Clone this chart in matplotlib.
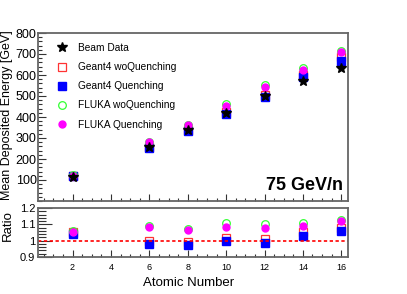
import matplotlib
matplotlib.use("Agg")
import matplotlib.pyplot as plt
import numpy as np
from matplotlib.ticker import MultipleLocator

plt.rcParams['font.family'] = ['Liberation Sans', 'DejaVu Sans']

Z = [2, 6, 8, 10, 12, 14, 16]
beam = [115, 258, 339, 418, 501, 573, 633]
g4_woq = [121, 257, 337, 426, 506, 602, 684]
g4_q = [120, 253, 331, 416, 494, 590, 669]
fluka_woq = [122, 281, 364, 463, 551, 634, 715]
fluka_q = [121, 280, 362, 454, 541, 624, 709]

labels = ["Beam Data", "Geant4 woQuenching", "Geant4 Quenching",
          "FLUKA woQuenching", "FLUKA Quenching"]

W, H = 407, 294
fig = plt.figure(figsize=(W / 100, H / 100), dpi=100)

def rect(l, t, r, b):
    return [l / W, 1 - b / H, (r - l) / W, (b - t) / H]

ax = fig.add_axes(rect(38, 33, 348, 201))
axr = fig.add_axes(rect(38, 208, 348, 257))

ms = 5
styles = [
    dict(marker='s', mfc='none', mec='#ff3333', ms=ms + 0.5, mew=0.9, ls='none'),
    dict(marker='s', mfc='#0000ff', mec='#0000ff', ms=ms + 0.5, ls='none'),
    dict(marker='o', mfc='none', mec='#33ff33', ms=ms + 0.5, mew=0.9, ls='none'),
    dict(marker='o', mfc='#ff00ff', mec='#ff00ff', ms=ms, ls='none'),
]
series = [g4_woq, g4_q, fluka_woq, fluka_q]
handles = []
for s, st in zip(series, styles):
    h, = ax.plot(Z, s, **st)
    handles.append(h)
    axr.plot(Z, np.array(s) / np.array(beam), **st)
hb, = ax.plot(Z, beam, marker='*', color='black', ms=7, ls='none')
handles = [hb] + handles

ax.set_xlim(0.2, 16.35)
axr.set_xlim(0.2, 16.35)
ax.set_ylim(0, 800)
axr.set_ylim(0.9, 1.2)
axr.axhline(1.0, color='#ff0000', ls=(0, (2, 1.5)), lw=1.2)

for a in (ax, axr):
    a.xaxis.set_major_locator(MultipleLocator(2))
    a.xaxis.set_minor_locator(MultipleLocator(0.5))
    for sp in a.spines.values():
        sp.set_color('#666666')
        sp.set_linewidth(1.3)
    a.tick_params(which='both', direction='in', top=False, right=False,
                  colors='#333333', width=0.8)
ax.yaxis.set_major_locator(MultipleLocator(100))
ax.yaxis.set_minor_locator(MultipleLocator(20))
ax.set_yticks([100, 200, 300, 400, 500, 600, 700, 800])
ax.tick_params(axis='y', which='major', length=6, labelsize=9, pad=1)
ax.tick_params(axis='y', which='minor', length=3)
ax.tick_params(axis='x', which='major', length=5, labelbottom=False)
ax.tick_params(axis='x', which='minor', length=2.5)

axr.yaxis.set_major_locator(MultipleLocator(0.1))
axr.yaxis.set_minor_locator(MultipleLocator(0.02))
axr.set_yticks([0.9, 1.0, 1.1, 1.2])
axr.set_yticklabels(['0.9', '1', '1.1', '1.2'])
axr.tick_params(axis='y', which='major', length=10, labelsize=8, pad=2)
axr.tick_params(axis='y', which='minor', length=6)
axr.tick_params(axis='x', which='major', length=5, labelsize=6.5, pad=4)
axr.tick_params(axis='x', which='minor', length=2.5)
for t in ax.get_yticklabels() + axr.get_yticklabels() + axr.get_xticklabels():
    t.set_color('black')

fig.text(7 / W, 1 - 30 / H, "Mean Deposited Energy [GeV]", rotation=90,
         ha='center', va='top', fontsize=9)
fig.text(8 / W, 1 - 226 / H, "Ratio", rotation=90, ha='center', va='center',
         fontsize=9.5)
fig.text(234 / W, 1 - 283 / H, "Atomic Number", ha='right', va='center',
         fontsize=9.5)
ax.text(0.983, 0.04, "75 GeV/n", transform=ax.transAxes, ha='right',
        va='bottom', fontsize=13, fontweight='bold')

leg = ax.legend(handles, labels, loc='upper left',
                bbox_to_anchor=(57 / W, 1 - 43 / H),
                bbox_transform=fig.transFigure, frameon=False,
                fontsize=7.3, handlelength=1.0, handletextpad=1.1,
                labelspacing=0.9, borderpad=0, borderaxespad=0)

fig.savefig("out.png", dpi=100)
